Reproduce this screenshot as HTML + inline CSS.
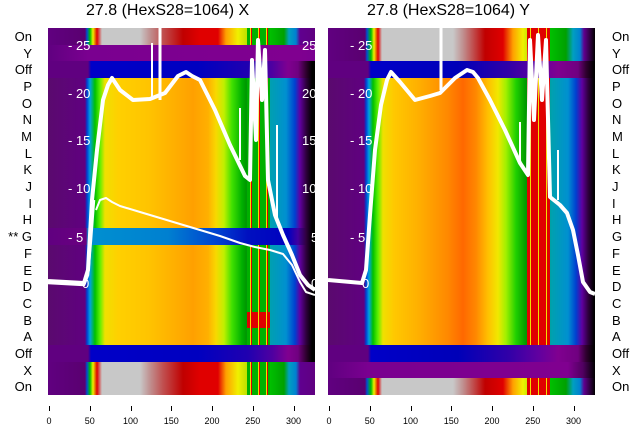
<!DOCTYPE html>
<html><head><meta charset="utf-8"><style>
body{margin:0;width:640px;height:440px;background:#fff;position:relative;overflow:hidden;font-family:"Liberation Sans","DejaVu Sans",sans-serif}
.p{position:absolute;top:28px;height:367px;width:267px;overflow:hidden}
.r{position:absolute;left:0;width:267px;height:17px}
.st{position:absolute;height:17px}
.lab{position:absolute;font-size:13px;color:#000;line-height:14px}
.t{position:absolute;font-size:16px;color:#000;top:2px}
.xt{position:absolute;font-size:9px;color:#000;top:416px;transform:translateX(-50%)}
.tk{position:absolute;top:406px;width:1px;height:5px;background:#000}
</style></head><body>
<div class="t" style="left:86px">27.8 (HexS28=1064) X</div>
<div class="t" style="left:367px">27.8 (HexS28=1064) Y</div>

<div class="p" id="L" style="left:48px"></div>
<div class="p" id="R" style="left:328px"></div>

<svg width="640" height="440" style="position:absolute;left:0;top:0">
<defs><clipPath id="cl"><rect x="48" y="28" width="267" height="367"/></clipPath>
<clipPath id="cr"><rect x="328" y="28" width="267" height="367"/></clipPath></defs>
<g clip-path="url(#cl)" fill="none" stroke="#fff" stroke-linejoin="round">
<polyline stroke-width="4" points="48,281 84,283 88,270 92,200 97,150 103,100 108,85 112,78 120,90 133,100 150,99 165,93 178,76 186,72 192,76 200,80 215,110 230,145 245,176 250,180 252,60 256,140 258,40 262,100 265,50 268,180 270,190 275,215 283,235 292,255 300,275 308,285 315,290"/>
<polyline stroke-width="2" points="96,210 100,200 106,198 112,202 120,206 140,212 160,218 180,224 200,230 220,236 240,243 255,247 270,250 283,254 292,265 300,282 306,292 315,295"/>
<polyline stroke-width="2.5" points="48,283 84,285 88,275 91,240 94,200"/>
<line x1="152" y1="100" x2="152" y2="43" stroke-width="2"/>
<line x1="160" y1="100" x2="160" y2="28" stroke-width="3"/>
<line x1="240" y1="160" x2="240" y2="108" stroke-width="2"/>
<line x1="277" y1="220" x2="277" y2="125" stroke-width="2"/>
</g>
<g clip-path="url(#cr)" fill="none" stroke="#fff" stroke-linejoin="round">
<polyline stroke-width="4" points="328,280 362,283 366,270 370,215 375,150 381,105 387,80 391,72 400,82 415,100 430,96 440,93 455,78 467,70 473,72 478,78 490,100 505,130 520,163 528,175 530,40 534,120 538,35 542,100 546,40 550,197 560,205 567,213 573,230 578,255 583,282 590,292 595,294"/>
<line x1="441" y1="90" x2="441" y2="28" stroke-width="3"/>
<line x1="520" y1="165" x2="520" y2="122" stroke-width="2"/>
<line x1="558" y1="200" x2="558" y2="150" stroke-width="2"/>
</g>
<g font-size="13" fill="#fff" font-family="Liberation Sans,DejaVu Sans,sans-serif">
<text x="68" y="50">- 25</text><text x="68" y="98">- 20</text><text x="68" y="145">- 15</text><text x="68" y="193">- 10</text><text x="68" y="242">- 5</text><text x="82" y="288">0</text>
<text x="302" y="50">25</text><text x="302" y="98">20</text><text x="302" y="145">15</text><text x="302" y="193">10</text><text x="311" y="242">5</text><text x="311" y="288">0</text>
<text x="350" y="50">- 25</text><text x="350" y="98">- 20</text><text x="350" y="145">- 15</text><text x="350" y="193">- 10</text><text x="350" y="242">- 5</text><text x="362" y="288">0</text>
</g>
</svg>

<div id="labs"></div>
<div id="xt"></div>
<script>
var names=["On","Y","Off","P","O","N","M","L","K","J","I","H","G","F","E","D","C","B","A","Off","X","On"];
var ML="linear-gradient(90deg,#5a0a6e 0,#600080 37px,#0040d0 39px,#00a0e0 42px,#00c000 47px,#60f000 52px,#f0e000 57px,#ffd000 70px,#ffc400 100px,#ffb000 125px,#ffa000 145px,#ffb000 160px,#f8d800 168px,#c0f000 176px,#40e000 184px,#00b000 194px,#009800 198px,#00a0b0 222px,#0090d0 238px,#0040d0 247px,#6000a0 252px,#300040 258px,#000 264px)";
var MR="linear-gradient(90deg,#5a0a6e 0,#600080 36px,#0040d0 38px,#00a0e0 41px,#00c000 45px,#60f000 50px,#f0e000 55px,#ffc800 66px,#ffb000 90px,#ff8800 120px,#ff6800 135px,#ff8800 148px,#ffc000 160px,#f0e800 170px,#a0f000 178px,#20d000 188px,#009800 198px,#00a0b0 224px,#0090d0 240px,#0040d0 248px,#6000a0 254px,#300040 260px,#000 266px)";
var ONL="linear-gradient(90deg,#600080 0,#5a0070 37px,#0050d0 39px,#00c000 42px,#f0f000 45px,#e00000 49px,#c8c8c8 54px,#c8c8c8 92px,#c09090 102px,#c05050 115px,#c00000 135px,#e00000 152px,#e00000 170px,#ffa000 178px,#f0f000 190px,#c0e000 199px,#00c000 222px,#00a000 236px,#00a0c0 241px,#0080d0 248px,#600090 252px,#600080 267px)";
var ONR="linear-gradient(90deg,#600080 0,#5a0070 37px,#0050d0 39px,#00c000 43px,#f0f000 46px,#e00000 50px,#c8c8c8 54px,#c8c8c8 125px,#c09090 135px,#c00000 157px,#e00000 175px,#ffa000 185px,#f0f000 195px,#00c000 222px,#00a000 238px,#00a0c0 245px,#0080d0 252px,#600090 256px,#300040 262px,#000 267px)";
var OFFL="linear-gradient(90deg,#600080 0,#600080 40px,#0000c8 43px,#0000c0 150px,#2000b0 200px,#5000a0 225px,#800090 240px,#700080 250px,#300030 258px,#000 264px)";
var OFFR="linear-gradient(90deg,#600080 0,#600080 40px,#0000c8 43px,#0000b8 130px,#3000a8 180px,#6000a0 210px,#800090 230px,#700080 250px,#300030 258px,#000 266px)";
var GL="linear-gradient(90deg,#600080 0,#6a0080 38px,#0090d0 40px,#0080d0 120px,#0040d0 170px,#0010c0 200px,#0000c0 240px,#4000a0 250px,#300040 258px,#000 264px)";
var YL="linear-gradient(90deg,#600080 0,#7a0090 40px,#800090 250px,#7a0090 267px)";
var XR="linear-gradient(90deg,#600080 0,#7a0090 40px,#800090 240px,#500060 255px,#000 267px)";
var L=[ONL,YL,OFFL],R=[ONR,ONR,OFFR];
for(var i=3;i<19;i++){L.push(i==12?GL:ML);R.push(MR);}
L.push(OFFL,ONL,ONL);R.push(OFFR,XR,ONR);
function fill(id,arr,stripeR){
 var p=document.getElementById(id),h="";
 for(var i=0;i<22;i++){
  var y=Math.round(i*16.68);
  h+='<div class="r" style="top:'+y+'px;background:'+arr[i]+'"></div>';
  if(arr[i]!==YL&&arr[i]!==XR&&arr[i]!==OFFL&&arr[i]!==OFFR&&arr[i]!==GL){
   var c=stripeR||(i==17)?"#e00000":"#00b000";
   h+='<div class="st" style="top:'+y+'px;left:199px;width:23px;background:repeating-linear-gradient(90deg,'+c+' 0 3px,#f0e000 3px 4px,#e00000 4px 5px,'+c+' 5px 8px)"></div>';
  }
 }
 p.innerHTML=h;
}
fill("L",L,false);fill("R",R,true);
var lb="";
for(var i=0;i<22;i++){var y=Math.round(30+i*16.68);
 lb+='<div class="lab" style="right:608px;top:'+y+'px">'+(i==12?"** ":"")+names[i]+'</div>';
 lb+='<div class="lab" style="left:612px;top:'+y+'px">'+names[i]+'</div>';}
document.getElementById("labs").innerHTML=lb;
var xt="";
[0,50,100,150,200,250,300].forEach(function(v){
 [49,329].forEach(function(o){var x=o+v*0.815;
  xt+='<div class="tk" style="left:'+x+'px"></div><div class="xt" style="left:'+x+'px">'+v+'</div>';});});
document.getElementById("xt").innerHTML=xt;
</script>
</body></html>
